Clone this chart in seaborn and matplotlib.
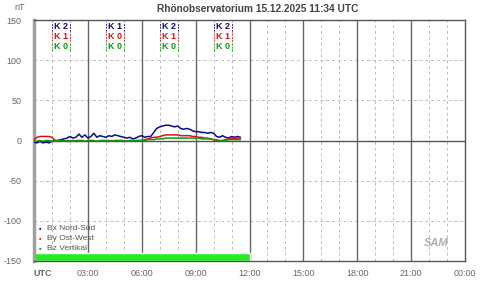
import numpy as np
import pandas as pd
import matplotlib
matplotlib.use("Agg")
import matplotlib.pyplot as plt
import seaborn as sns

sns.set_style("white")
plt.rcParams['font.family'] = ['Liberation Sans', 'DejaVu Sans']
plt.rcParams['axes.unicode_minus'] = False

# ---- data (10-minute samples starting 00:00 UTC) ----
bx = [-2, -3, -1, -3, -2, -3, -1, 0, 0, 1, 2, 3, 5, 3, 4, 8, 4, 7,
      3, 5, 9, 4, 6, 5, 4, 6, 5, 7, 6, 5, 4, 3, 4, 2, 3, 5,
      6, 4, 5, 5, 10, 15, 17, 18, 19, 19, 18, 17, 18, 15, 14, 15, 14, 12,
      11, 11, 10, 10, 9, 10, 9, 5, 4, 6, 4, 3, 5, 4, 5, 4]
by = [1, 4, 5, 5, 5, 5, 4, 0, -1, -1, 0, -1, -1, 0, -1, -1, 0, -1,
      -1, 0, -1, -1, -1, 0, -1, -1, 0, -1, -1, 0, -1, -1, 0, -1, -1, 0,
      0, 1, 2, 3, 4, 4, 5, 6, 7, 7, 7, 7, 7, 6, 6, 6, 6, 5,
      5, 4, 4, 3, 3, 2, 1, 0, -1, 0, 1, 2, 3, 2, 3, 3]
bz = [-1, -1, 0, -1, 0, 0, -1, -1, 0, 0, -1, 0, 0, -1, 0, 0, 0, -1,
      0, 0, 0, -1, 0, 0, 0, 0, -1, 0, 0, 0, 0, -1, 0, 0, 0, 0,
      0, 0, 1, 1, 1, 2, 2, 2, 3, 3, 3, 3, 3, 3, 3, 3, 3, 3,
      3, 3, 2, 2, 2, 2, 1, 1, 0, 0, 0, 1, 1, 1, 1, 1]
times_h = [i / 6 for i in range(len(bx))]

k_starts = [0, 3, 6, 9]
k_bx = [2, 1, 2, 2]
k_by = [1, 0, 1, 1]
k_bz = [0, 0, 0, 0]

series_names = ["Bx Nord-Süd", "By Ost-West", "Bz Vertikal"]
colors = ["#0a0a8c", "#dd1111", "#119911"]
tick_labels = ["UTC", "03:00", "06:00", "09:00", "12:00", "15:00", "18:00", "21:00", "00:00"]
coverage_end = 12  # hours with data (green bar)

df = pd.DataFrame({"t": times_h * 3,
                   "nT": bx + by + bz,
                   "comp": [series_names[0]] * len(bx) + [series_names[1]] * len(by) + [series_names[2]] * len(bz)})

fig = plt.figure(figsize=(4.8, 2.81), dpi=100)
ax = fig.add_axes([34 / 480, 20 / 281, 431 / 480, 241 / 281])
ax.set_xlim(0, 24)
ax.set_ylim(-150, 150)

grid_c = "#bdbdbd"
# hourly dashed grid
for h in range(1, 24):
    if h % 3:
        ax.axvline(h, color=grid_c, lw=0.7, ls=(0, (3, 3)), zorder=1)
for y in [-100, -50, 50, 100]:
    ax.axhline(y, color=grid_c, lw=0.7, ls=(0, (3, 3)), zorder=1)
for h in range(3, 24, 3):
    ax.axvline(h, color="#666666", lw=1.0, zorder=1)
ax.axhline(0, color="#555555", lw=1.0, zorder=1)

# green coverage bar
ax.bar([coverage_end / 2], [10], width=coverage_end, bottom=-150, color="#22ee22", zorder=2)

sns.lineplot(data=df, x="t", y="nT", hue="comp", palette=colors, lw=1.1,
             legend=False, ax=ax, zorder=3, estimator=None)

# K-indices
k_rows = [141.5, 129, 116.5]
for j, (vals, c) in enumerate(zip([k_bx, k_by, k_bz], colors)):
    for s, v in zip(k_starts, vals):
        ax.text(s + 1.5, k_rows[j], f"K {v}", color=c, fontsize=6.5, fontweight="bold",
                ha="center", va="center", zorder=4)
        for h in (s + 1, s + 2):
            ax.plot([h, h], [k_rows[j] - 5.5, k_rows[j] + 5.5], color=c, lw=0.7,
                    ls=(0, (1.5, 1.5)), zorder=2)

# legend as text
for j, (name, c) in enumerate(zip(series_names, colors)):
    yy = -110 - j * 12.5
    ax.text(0.25, yy, "▪", color=c, fontsize=5, va="center", ha="left")
    ax.text(0.75, yy, name, color="#555555", fontsize=6, va="center", ha="left")

# logo
ax.text(22.4, -128, "SAM", color="#9a9a9a", fontsize=8, style="italic", fontweight="bold",
        ha="center", va="center", alpha=0.8)

# axes styling
for side in ["top", "right"]:
    ax.spines[side].set_color("#555555")
    ax.spines[side].set_linewidth(1.0)
ax.spines["left"].set_color("#a0a0a0")
ax.spines["left"].set_linewidth(2.5)
ax.spines["bottom"].set_color("#555555")
ax.spines["bottom"].set_linewidth(1.0)

ax.set_xticks(range(0, 25, 3))
ax.set_xticks(range(0, 25, 1), minor=True)
ax.set_xticklabels(tick_labels)
ax.set_yticks([-150, -100, -50, 0, 50, 100, 150])
ax.tick_params(axis="x", which="both", direction="out", length=4, color="#555555",
               labelsize=6.5, labelcolor="#666666", pad=2)
ax.tick_params(axis="y", direction="out", length=4, color="#888888",
               labelsize=6.5, labelcolor="#666666", pad=5)
ax.get_xticklabels()[0].set_fontweight("bold")
ax.get_xticklabels()[0].set_ha("left")
ax.set_xlabel("")
ax.set_ylabel("")

fig.text(20 / 480, 1 - 8 / 281, "nT", fontsize=6.5, color="#666666", ha="center", va="center")
fig.text(258 / 480, 1 - 9 / 281, "Rhönobservatorium 15.12.2025 11:34 UTC", fontsize=7.3,
         fontweight="bold", color="#444444", ha="center", va="center")

fig.savefig("out.png", dpi=100)
